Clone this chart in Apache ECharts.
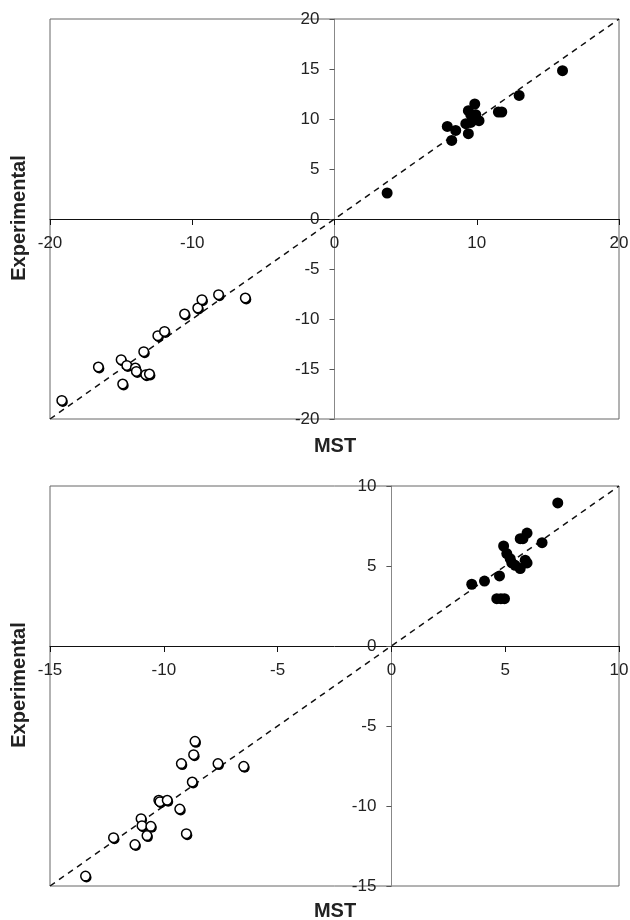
<!DOCTYPE html>
<html>
<head>
<meta charset="utf-8">
<script src="https://cdn.jsdelivr.net/npm/echarts@6/dist/echarts.min.js"></script>
<style>
html,body{margin:0;padding:0;background:#fff;}
#chart{width:630px;height:920px;}
</style>
</head>
<body>
<div id="chart"></div>
<script>
// ---- Panel 1 (top) ----
var top1Range = [-20, 20];
var top1XTicks = [-20, -10, 0, 10, 20];
var top1YTicks = [-20, -15, -10, -5, 0, 5, 10, 15, 20];
var topPosMST = [3.70, 16.03, 12.98, 11.52, 11.76, 9.86, 9.41, 9.58, 9.93, 10.16, 9.81, 9.23, 9.58, 7.93, 8.52, 9.41, 8.24];
var topPosExp = [2.60, 14.83, 12.36, 10.70, 10.70, 11.50, 10.83, 10.43, 10.43, 9.83, 9.93, 9.53, 9.66, 9.26, 8.86, 8.53, 7.86];
var topNegMST = [-19.17, -16.60, -15.00, -14.60, -14.00, -13.93, -14.89, -13.27, -13.01, -13.41, -12.42, -11.95, -10.54, -9.61, -9.32, -8.15, -6.27];
var topNegExp = [-18.14, -14.80, -14.07, -14.64, -14.90, -15.24, -16.50, -15.57, -15.50, -13.27, -11.67, -11.24, -9.50, -8.90, -8.07, -7.57, -7.90];

// ---- Panel 2 (bottom) ----
var bot2Range = [-15, 10];
var bot2XTicks = [-15, -10, -5, 0, 5, 10];
var bot2YTicks = [-15, -10, -5, 0, 5, 10];
var botPosMST = [3.53, 4.09, 4.75, 4.63, 4.81, 4.97, 4.93, 5.07, 5.22, 5.29, 5.44, 5.66, 5.88, 5.96, 5.66, 5.78, 5.96, 6.62, 7.31];
var botPosExp = [3.86, 4.06, 4.38, 2.96, 2.96, 2.96, 6.25, 5.78, 5.46, 5.19, 5.04, 4.84, 5.36, 5.19, 6.71, 6.71, 7.06, 6.46, 8.94];
var botNegMST = [-13.44, -12.21, -11.27, -11.00, -10.96, -10.57, -10.74, -10.22, -10.17, -9.85, -9.30, -9.01, -8.75, -9.23, -8.69, -8.63, -7.62, -6.49];
var botNegExp = [-14.38, -11.98, -12.41, -10.79, -11.23, -11.27, -11.85, -9.64, -9.73, -9.64, -10.19, -11.73, -8.50, -7.35, -6.79, -5.96, -7.35, -7.52];

var xName = 'MST';
var yName = 'Experimental';

function pairs(xs, ys) { return xs.map(function (x, i) { return [x, ys[i]]; }); }

var FONT = '"Liberation Sans", Arial, Helvetica, sans-serif';
var labelStyle = { fontFamily: FONT, fontSize: 17, color: '#222' };

var GRID_LEFT = 50, GRID_W = 569, GRID_H = 400;
var GRID_TOPS = [19, 486];

// offset that moves an edge axis onto the zero line of the other axis
function zeroOffset(range, size) { return -((0 - range[0]) / (range[1] - range[0])) * size; }

function xAx(gi, range, ticks, yRange) {
  return {
    type: 'value', gridIndex: gi, min: range[0], max: range[1],
    interval: ticks[1] - ticks[0], position: 'bottom',
    offset: zeroOffset(yRange, GRID_H),
    axisLine: { onZero: false, lineStyle: { color: '#111', width: 1 } },
    axisTick: { show: true, length: 6, lineStyle: { color: '#111' } },
    axisLabel: Object.assign({ margin: 16, showMinLabel: true, showMaxLabel: true }, labelStyle),
    splitLine: { show: false }
  };
}
function yAx(gi, range, ticks, xRange) {
  return {
    type: 'value', gridIndex: gi, min: range[0], max: range[1],
    interval: ticks[1] - ticks[0], position: 'left',
    offset: zeroOffset(xRange, GRID_W),
    axisLine: { onZero: false, lineStyle: { color: '#888', width: 1 } },
    axisTick: { show: true, length: 5, lineStyle: { color: '#555' } },
    axisLabel: Object.assign({ margin: 15, showMinLabel: true, showMaxLabel: true }, labelStyle),
    splitLine: { show: false }
  };
}

var filledStyle = { color: '#000', opacity: 1 };
var openStyle = { color: '#fff', borderColor: '#000', borderWidth: 1.5, opacity: 1 };
var shadowStyle = { color: '#000', opacity: 1 };
var diagStyle = { color: '#111', width: 1.5, type: [6, 5] };

function gridDef(top) {
  return { left: GRID_LEFT, top: top, width: GRID_W, height: GRID_H, show: true,
    borderColor: '#666', borderWidth: 1, backgroundColor: 'transparent', outerBoundsMode: 'none' };
}

function panelSeries(gi, range, posX, posY, negX, negY) {
  return [
    { type: 'line', xAxisIndex: gi, yAxisIndex: gi, data: [[range[0], range[0]], [range[1], range[1]]],
      showSymbol: false, symbol: 'none', lineStyle: diagStyle, z: 1, silent: true },
    { type: 'scatter', xAxisIndex: gi, yAxisIndex: gi, data: pairs(posX, posY),
      symbol: 'circle', symbolSize: 11, itemStyle: filledStyle, z: 3 },
    { type: 'scatter', xAxisIndex: gi, yAxisIndex: gi, data: pairs(negX, negY),
      symbol: 'circle', symbolSize: 10, symbolOffset: [1, 1.5], itemStyle: shadowStyle, z: 3 },
    { type: 'scatter', xAxisIndex: gi, yAxisIndex: gi, data: pairs(negX, negY),
      symbol: 'circle', symbolSize: 9.5, itemStyle: openStyle, z: 4 }
  ];
}

var option = {
  animation: false,
  backgroundColor: '#fff',
  grid: [ gridDef(GRID_TOPS[0]), gridDef(GRID_TOPS[1]) ],
  xAxis: [ xAx(0, top1Range, top1XTicks, top1Range), xAx(1, bot2Range, bot2XTicks, bot2Range) ],
  yAxis: [ yAx(0, top1Range, top1YTicks, top1Range), yAx(1, bot2Range, bot2YTicks, bot2Range) ],
  series: panelSeries(0, top1Range, topPosMST, topPosExp, topNegMST, topNegExp)
    .concat(panelSeries(1, bot2Range, botPosMST, botPosExp, botNegMST, botNegExp)),
  graphic: [
    { type: 'text', x: 335, y: 446, style: { text: xName, font: 'bold 20px ' + FONT, fill: '#222', textAlign: 'center', textVerticalAlign: 'middle' } },
    { type: 'text', x: 335, y: 911, style: { text: xName, font: 'bold 20px ' + FONT, fill: '#222', textAlign: 'center', textVerticalAlign: 'middle' } },
    { type: 'text', x: 19, y: 218, rotation: Math.PI / 2, style: { text: yName, font: 'bold 20px ' + FONT, fill: '#222', textAlign: 'center', textVerticalAlign: 'middle' } },
    { type: 'text', x: 19, y: 685, rotation: Math.PI / 2, style: { text: yName, font: 'bold 20px ' + FONT, fill: '#222', textAlign: 'center', textVerticalAlign: 'middle' } }
  ]
};

var chart = echarts.init(document.getElementById('chart'), null, { renderer: 'canvas' });
chart.setOption(option);
</script>
</body>
</html>
